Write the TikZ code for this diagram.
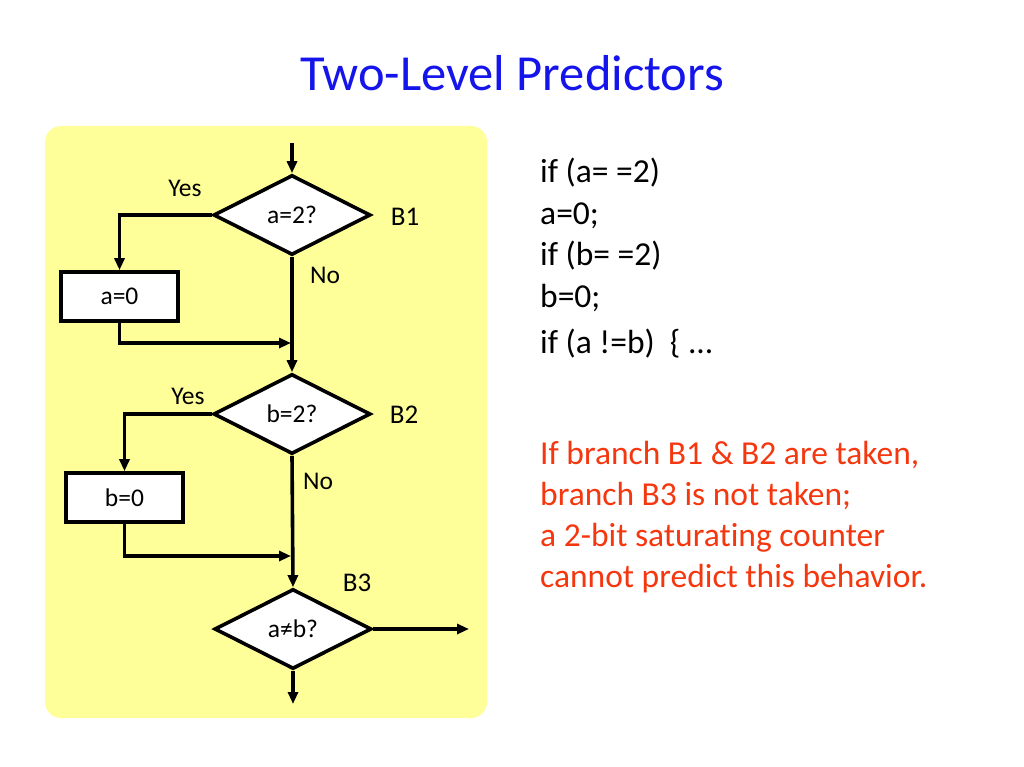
\documentclass[tikz,border=0pt]{standalone}
\usepackage{fontspec}
\setmainfont[Ligatures=NoCommon]{Carlito}
\usetikzlibrary{shapes.geometric,arrows.meta}
\definecolor{panelyellow}{RGB}{255,255,153}
\definecolor{titleblue}{RGB}{20,20,235}
\definecolor{notered}{RGB}{245,55,15}
\tikzset{
  dec/.style={diamond,draw=black,fill=white,line width=3.6pt,minimum width=157pt,minimum height=80pt,inner sep=0pt,font=\fontsize{25.5}{29}\selectfont},
  proc/.style={rectangle,draw=black,fill=white,line width=3.6pt,minimum width=117pt,minimum height=49pt,inner sep=0pt,font=\fontsize{25.5}{29}\selectfont},
  flow/.style={line width=3.6pt,-{Triangle[length=12pt,width=10pt]}},
  lbl/.style={font=\fontsize{25.5}{29}\selectfont,inner sep=0pt},
  blbl/.style={font=\fontsize{27}{31}\selectfont,inner sep=0pt},
  code/.style={font=\fontsize{33.5}{38}\selectfont,anchor=base west,inner sep=0pt},
  note/.style={code,text=notered},
}
\begin{document}
\begin{tikzpicture}[x=1pt,y=-1pt]
\useasboundingbox (0,0) rectangle (1024,767);
\fill[white] (0,0) rectangle (1024,767);
\fill[panelyellow,rounded corners=16pt] (45,126) rectangle (487,718);
% title
\node[font=\fontsize{50.5}{56}\selectfont,text=titleblue,anchor=base,inner sep=0pt] (title) at (512,91) {Two-Level Predictors};
% flowchart
\coordinate (start) at (292,143);
\node[dec] (d1) at (292,215) {a=2?};
\node[dec] (d2) at (292,414) {b=2?};
\node[dec] (d3) at (293,629) {a≠b?};
\node[proc] (a0) at (119.5,296.5) {a=0};
\node[proc] (b0) at (124.5,497.5) {b=0};
\coordinate (m1) at (291,343);
\coordinate (m2) at (291,556);
\coordinate (out) at (469,629);
\coordinate (end) at (293,704);
\draw[flow] (start) -- (d1.north);
\draw[flow] (d1.west) -| (a0.north);
\draw[flow] (a0.south) |- (m1);
\draw[flow] (d1.south) -- (d2.north);
\draw[flow] (d2.west) -| (b0.north);
\draw[flow] (b0.south) |- (m2);
\draw[flow] (d2.south) -- (d3.north);
\draw[flow] (d3.east) -- (out);
\draw[flow] (d3.south) -- (end);
\node[lbl] (yes1) at (185,188) {Yes};
\node[blbl] (b1) at (405,217) {B1};
\node[lbl] (no1) at (325,275) {No};
\node[lbl] (yes2) at (188,396) {Yes};
\node[blbl] (b2) at (404,415) {B2};
\node[lbl] (no2) at (318,481) {No};
\node[blbl] (b3) at (357,583) {B3};
% code
\node[code] (c1) at (540,183) {if (a= =2)};
\node[code] (c2) at (540,225) {a=0;};
\node[code] (c3) at (540,265) {if (b= =2)};
\node[code] (c4) at (540,307) {b=0;};
\node[code] (c5) at (540,353) {if (a !=b)\ \ \{ ...};
% note
\node[note] (n1) at (540,464) {If branch B1 \& B2 are taken,};
\node[note] (n2) at (540,505) {branch B3 is not taken;};
\node[note] (n3) at (540,546) {a 2-bit saturating counter};
\node[note] (n4) at (540,587) {cannot predict this behavior.};
\end{tikzpicture}
\end{document}
